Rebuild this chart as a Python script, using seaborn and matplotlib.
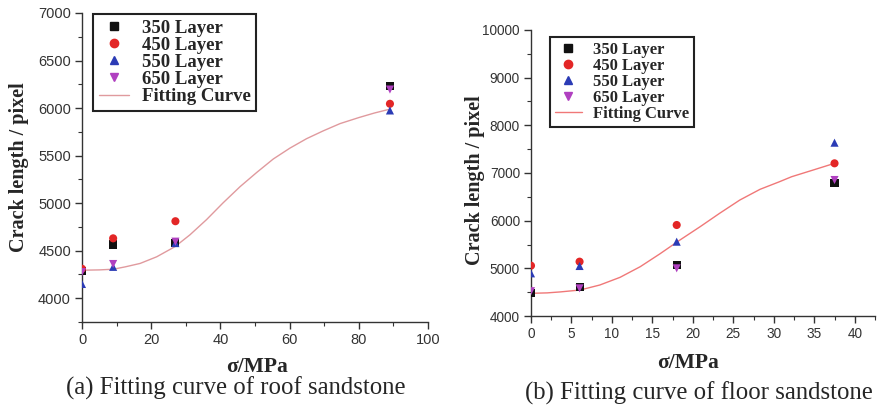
"""
裂缝长度随应力变化 - 顶板/底板砂岩拟合曲线
"""

import pandas as pd
import matplotlib.pyplot as plt
import seaborn as sns
from matplotlib.lines import Line2D
from matplotlib.ticker import MultipleLocator

sns.set_style('ticks')
plt.rcParams['font.family'] = ['Liberation Serif', 'DejaVu Serif']

# ---- 数据 (a) 顶板砂岩 ----
roof_sigma = [0, 9, 27, 89]
roof_350 = [4290, 4565, 4580, 6230]
roof_450 = [4310, 4630, 4810, 6045]
roof_550 = [4150, 4330, 4580, 5975]
roof_650 = [4275, 4360, 4595, 6195]
roof_fit_x = [0.4, 5, 9, 12.5, 16.8, 21.6, 26.9, 31.2, 36.0, 40.8, 45.7, 50.5,
              55.3, 60.1, 64.9, 69.7, 74.6, 80, 84.5, 89]
roof_fit_y = [4295, 4298, 4305, 4330, 4366, 4436, 4543, 4667, 4827, 5004, 5174, 5323,
              5465, 5579, 5678, 5760, 5837, 5900, 5948, 5989]

# ---- 数据 (b) 底板砂岩 ----
floor_sigma = [0, 6, 18, 37.5]
floor_350 = [4475, 4615, 5070, 6797]
floor_450 = [5056, 5140, 5909, 7203]
floor_550 = [4895, 5049, 5559, 7636]
floor_650 = [4520, 4580, 5000, 6853]
floor_fit_x = [0, 2, 3.6, 6.05, 8.5, 11.0, 13.5, 15.9, 18.4, 20.9, 23.3, 25.8,
               28.3, 30.7, 32.2, 35, 37.5]
floor_fit_y = [4476, 4485, 4505, 4545, 4650, 4811, 5035, 5301, 5594, 5874, 6154, 6433,
               6658, 6817, 6922, 7070, 7203]

layers = ['350 Layer', '450 Layer', '550 Layer', '650 Layer']
colors = {'350 Layer': '#111111', '450 Layer': '#e32626',
          '550 Layer': '#2b3bb5', '650 Layer': '#b040c0'}
markers = {'350 Layer': 's', '450 Layer': 'o', '550 Layer': '^', '650 Layer': 'v'}

SANS = ['Liberation Sans', 'DejaVu Sans']


def to_long(sigma, series):
    rows = []
    for name, vals in zip(layers, series):
        for s, v in zip(sigma, vals):
            rows.append({'sigma': s, 'length': v, 'layer': name})
    return pd.DataFrame(rows)


def draw_panel(ax, df, fit_x, fit_y, fit_color, tick_size, legend_size, legend_pos):
    sns.scatterplot(data=df, x='sigma', y='length', hue='layer', style='layer',
                    palette=colors, markers=markers, s=34, edgecolor='none',
                    legend=False, ax=ax, zorder=3)
    fit_df = pd.DataFrame({'sigma': fit_x, 'length': fit_y})
    sns.lineplot(data=fit_df, x='sigma', y='length', color=fit_color, lw=1.0,
                 ax=ax, zorder=2)
    sns.despine(ax=ax)
    for sp in ['left', 'bottom']:
        ax.spines[sp].set_linewidth(1.0)
        ax.spines[sp].set_color('#333333')
    ax.tick_params(which='major', length=5, width=1, direction='out',
                   labelsize=tick_size, labelcolor='#333333', color='#333333', pad=3)
    ax.tick_params(which='minor', length=3, width=0.8, direction='out', color='#333333')
    ax.set_xlabel('σ/MPa', fontsize=15.5, fontweight='bold', va='top')
    ax.set_ylabel('Crack length / pixel', fontsize=14.5, fontweight='bold')

    handles = [Line2D([], [], ls='none', marker=markers[k], color=colors[k],
                      markersize=6) for k in layers]
    handles.append(Line2D([], [], color=fit_color, lw=1.0))
    leg = ax.legend(handles, layers + ['Fitting Curve'], loc='upper left',
                    bbox_to_anchor=legend_pos, borderaxespad=0, frameon=True,
                    fancybox=False, framealpha=1, edgecolor='#222222',
                    handlelength=1.6, handletextpad=0.7, labelspacing=0.0,
                    borderpad=0.3,
                    prop={'family': 'Liberation Serif', 'weight': 'bold', 'size': legend_size})
    leg.get_frame().set_linewidth(1.5)


fig = plt.figure(figsize=(8.8, 4.11), dpi=100)

# (a) 顶板砂岩
ax1 = fig.add_axes([82 / 880, 1 - 322 / 411, 346 / 880, 309 / 411])
draw_panel(ax1, to_long(roof_sigma, [roof_350, roof_450, roof_550, roof_650]),
           roof_fit_x, roof_fit_y, '#e09a9e', 10.5, 13.5, (0.032, 0.997))
ax1.set_xlim(0, 100)
ax1.set_ylim(3750, 7000)
ax1.xaxis.set_major_locator(MultipleLocator(20))
ax1.xaxis.set_minor_locator(MultipleLocator(10))
ax1.set_yticks([4000, 4500, 5000, 5500, 6000, 6500, 7000])
ax1.yaxis.set_minor_locator(MultipleLocator(250))
for lab in ax1.get_xticklabels() + ax1.get_yticklabels():
    lab.set_family(SANS)
ax1.yaxis.set_label_coords(-0.152, 0.502)
ax1.xaxis.set_label_coords(0.506, -0.112)
fig.text(236 / 880, 1 - 388 / 411, '(a) Fitting curve of roof sandstone',
         ha='center', va='center', fontsize=17.8)

# (b) 底板砂岩
ax2 = fig.add_axes([531 / 880, 1 - 316 / 411, 344 / 880, 286 / 411])
draw_panel(ax2, to_long(floor_sigma, [floor_350, floor_450, floor_550, floor_650]),
           floor_fit_x, floor_fit_y, '#f07878', 9.8, 12, (0.055, 0.976))
ax2.set_xlim(0, 42.5)
ax2.set_ylim(4000, 10000)
ax2.set_xticks([0, 5, 10, 15, 20, 25, 30, 35, 40])
ax2.xaxis.set_minor_locator(MultipleLocator(2.5))
ax2.yaxis.set_major_locator(MultipleLocator(1000))
ax2.yaxis.set_minor_locator(MultipleLocator(500))
for lab in ax2.get_xticklabels() + ax2.get_yticklabels():
    lab.set_family(SANS)
ax2.yaxis.set_label_coords(-0.135, 0.4755)
ax2.xaxis.set_label_coords(0.456, -0.13)
fig.text(699 / 880, 1 - 393 / 411, '(b) Fitting curve of floor sandstone',
         ha='center', va='center', fontsize=17.8)

fig.savefig('out.png', dpi=100)
